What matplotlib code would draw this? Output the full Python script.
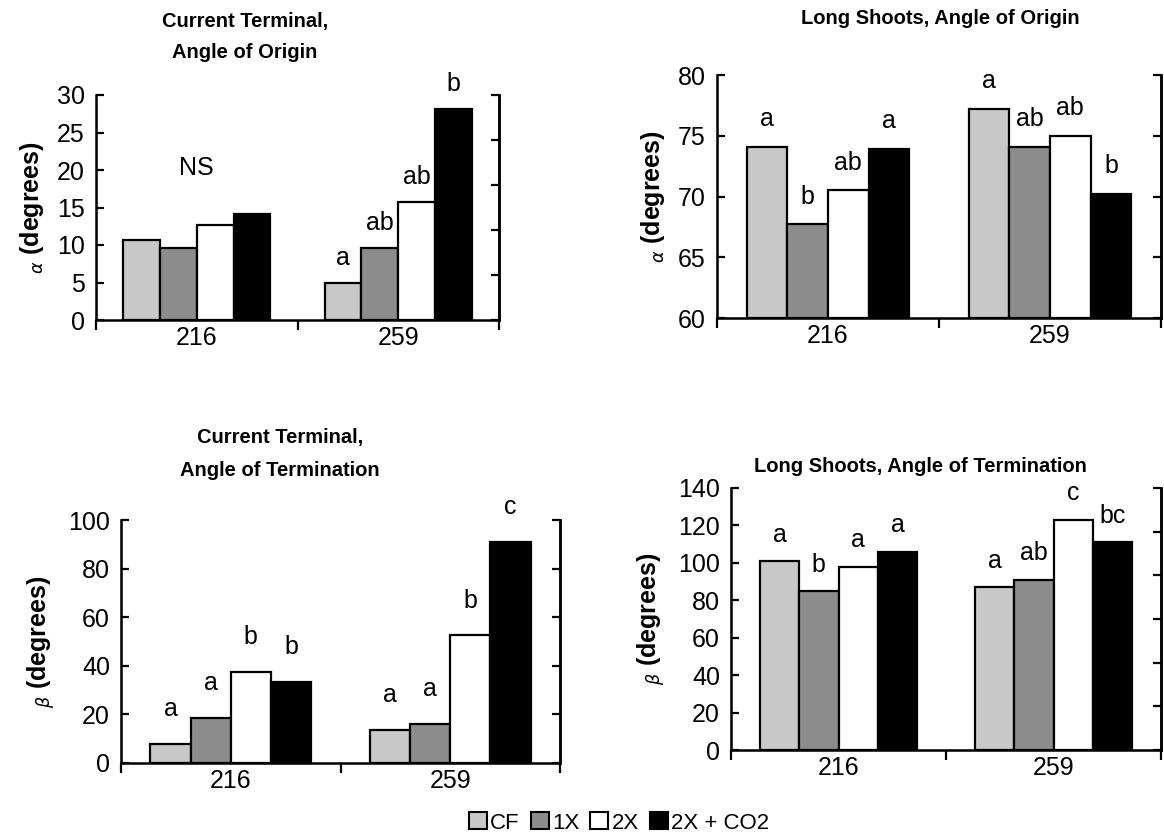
import numpy as np
import matplotlib
matplotlib.use('Agg')
import matplotlib.pyplot as plt
from matplotlib.patches import Patch

plt.rcParams['font.family'] = ['Liberation Sans', 'DejaVu Sans']

# data
days = ['216', '259']
treatments = ['CF', '1X', '2X', '2X + CO2']
colors = ['#c8c8c8', '#8c8c8c', '#ffffff', '#000000']

cur_origin = [[10.7, 4.9], [9.6, 9.6], [12.7, 15.8], [14.2, 28.1]]
cur_origin_labels = [['', 'a'], ['', 'ab'], ['', 'ab'], ['', 'b']]

long_origin = [[74.1, 77.2], [67.7, 74.1], [70.5, 75.0], [73.9, 70.2]]
long_origin_labels = [['a', 'a'], ['b', 'ab'], ['ab', 'ab'], ['a', 'b']]

cur_term = [[8.0, 13.5], [18.5, 16.0], [37.5, 52.5], [33.5, 91.0]]
cur_term_labels = [['a', 'a'], ['a', 'a'], ['b', 'b'], ['b', 'c']]

long_term = [[101, 87], [85, 91], [98, 123], [106, 111]]
long_term_labels = [['a', 'a'], ['b', 'ab'], ['a', 'c'], ['a', 'bc']]


def draw_panel(ax, values, labels, ylim, ystep, right_n, ylab, lab_off):
    x = np.arange(len(days))
    w = 0.183
    for i, (vals, col) in enumerate(zip(values, colors)):
        pos = x + (i - 1.5) * w
        ax.bar(pos, np.array(vals) - ylim[0], width=w, bottom=ylim[0],
               color=col, edgecolor='black', linewidth=1.6, zorder=3)
        for p, v, t in zip(pos, vals, labels[i]):
            if t:
                ax.annotate(t, (p, v), xytext=(0, lab_off), textcoords='offset points',
                            ha='center', va='center', fontsize=18)
    ax.set_xlim(-0.5, len(days) - 0.5)
    ax.set_ylim(*ylim)
    ax.set_yticks(np.arange(ylim[0], ylim[1] + ystep / 2, ystep))
    ax.set_xticks(x)
    ax.set_xticklabels(days)
    ax.set_xticks(np.arange(-0.5, len(days)), minor=True)
    ax.tick_params(axis='x', which='major', length=0, pad=4, labelsize=18)
    ax.tick_params(axis='x', which='minor', length=7, width=1.6, direction='out')
    ax.tick_params(axis='y', length=6, width=1.6, direction='in', labelsize=18, pad=8)
    ax.spines['top'].set_visible(False)
    for s in ['left', 'bottom', 'right']:
        ax.spines[s].set_linewidth(1.8)
    ax.set_ylabel(ylab, fontsize=18, fontweight='bold', labelpad=8)
    tw = ax.twinx()
    tw.set_ylim(0, right_n)
    tw.set_yticks(np.arange(0, right_n + 1))
    tw.tick_params(axis='y', length=6, width=1.6, direction='in', labelright=False)
    tw.spines['top'].set_visible(False)
    tw.spines['right'].set_linewidth(1.8)


fig = plt.figure(figsize=(11.64, 8.35), dpi=100)
W, H = 1164, 835

def add_axes(x0, x1, ytop, ybot):
    return fig.add_axes([x0 / W, 1 - ybot / H, (x1 - x0) / W, (ybot - ytop) / H])

ax1 = add_axes(96, 499, 95, 320)
draw_panel(ax1, cur_origin, cur_origin_labels, (0, 30), 5, 5, r'$_\alpha$ (degrees)', 18)
ax1.text(0, 20.3, 'NS', ha='center', va='center', fontsize=18)

ax2 = add_axes(717, 1161, 75, 318)
draw_panel(ax2, long_origin, long_origin_labels, (60, 80), 5, 4, r'$_\alpha$ (degrees)', 20)

ax3 = add_axes(121, 560, 520, 763)
draw_panel(ax3, cur_term, cur_term_labels, (0, 100), 20, 5, r'$_\beta$ (degrees)', 25)

ax4 = add_axes(731, 1161, 488, 750)
draw_panel(ax4, long_term, long_term_labels, (0, 140), 20, 6, r'$_\beta$ (degrees)', 19)

tkw = dict(ha='center', va='center', fontsize=14.5, fontweight='bold')
fig.text(245 / W, 1 - 21 / H, 'Current Terminal,', **tkw)
fig.text(245 / W, 1 - 53 / H, 'Angle of Origin', **tkw)
fig.text(940 / W, 1 - 19 / H, 'Long Shoots, Angle of Origin', **tkw)
fig.text(280 / W, 1 - 438 / H, 'Current Terminal,', **tkw)
fig.text(280 / W, 1 - 471 / H, 'Angle of Termination', **tkw)
fig.text(920 / W, 1 - 466 / H, 'Long Shoots, Angle of Termination', **tkw)

handles = [Patch(facecolor=c, edgecolor='black', linewidth=1.5) for c in colors]
fig.legend(handles, treatments, loc='center', bbox_to_anchor=(619 / W, 1 - 823 / H),
           ncol=4, frameon=False, fontsize=16, handlelength=0.8, handleheight=0.8,
           handletextpad=0.15, columnspacing=0.5)

fig.savefig('out.png', dpi=100)
